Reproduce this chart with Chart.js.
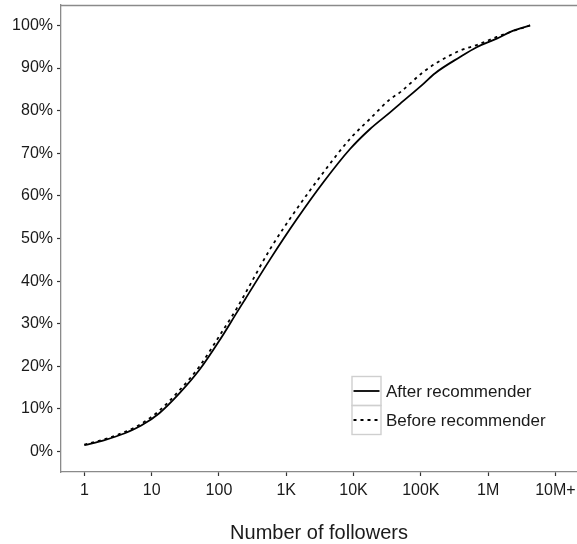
<!DOCTYPE html>
<html>
<head>
<meta charset="utf-8">
<script src="https://cdn.jsdelivr.net/npm/chart.js@4.4.1/dist/chart.umd.min.js"></script>
<style>
  html, body { margin: 0; padding: 0; background: #fff; }
  #wrap { width: 577px; height: 544px; position: relative; }
</style>
</head>
<body>
<div id="wrap"><canvas id="cdfChart"></canvas></div>
<script>
const followers = [1, 2, 4, 7, 13, 26, 52, 104, 184, 244, 575, 1430, 3560, 8870, 17600, 34900, 49000, 109000, 163000, 382000, 676000, 1340000, 2370000, 4200000];

// cumulative share of users (%)
const afterRecommender  = [1.5, 2.7, 4.3, 6.1, 9.0, 13.7, 19.3, 26.3, 32.6, 35.7, 45.1, 54.5, 63.2, 71.0, 75.7, 79.6, 81.6, 86.3, 88.8, 92.6, 94.9, 96.9, 98.8, 100];
const beforeRecommender = [1.6, 2.9, 4.6, 6.5, 9.6, 14.4, 20.1, 27.4, 33.6, 37.0, 47.5, 56.9, 65.5, 73.4, 78.1, 82.7, 84.3, 89.1, 91.0, 94.1, 95.4, 97.3, 98.7, 100];

const seriesLabels = ['After recommender', 'Before recommender'];

const xTickValues = [1, 10, 100, 1e3, 1e4, 1e5, 1e6, 1e7];
const xTickLabels = ['1', '10', '100', '1K', '10K', '100K', '1M', '10M+'];
const yTickValues = [0, 10, 20, 30, 40, 50, 60, 70, 80, 90, 100];

const FONT = "'Liberation Sans', Arial, Helvetica, sans-serif";
const axisGrey = '#8a8a8a';
const textColor = '#1a1a1a';

const toPoints = (xs, ys) => xs.map((x, i) => ({ x: x, y: ys[i] }));

// top edge of the panel + ggplot style legend with boxed keys
const frameAndKey = {
    id: 'frameAndKey',
    afterDraw(chart) {
        const { ctx, chartArea } = chart;
        ctx.save();
        ctx.strokeStyle = axisGrey;
        ctx.lineWidth = 1.3;
        ctx.beginPath();
        ctx.moveTo(chartArea.left, chartArea.top + 0.5);
        ctx.lineTo(chartArea.right, chartArea.top + 0.5);
        ctx.stroke();

        const keyLeft = chartArea.left + 291;
        const keyTop = chartArea.bottom - 95.5;
        const keySize = 29;
        chart.data.datasets.forEach((ds, i) => {
            const top = keyTop + i * keySize;
            ctx.setLineDash([]);
            ctx.strokeStyle = '#cfcfcf';
            ctx.lineWidth = 1.4;
            ctx.strokeRect(keyLeft, top, keySize, keySize);

            ctx.strokeStyle = ds.borderColor;
            ctx.lineWidth = ds.borderWidth;
            ctx.setLineDash(ds.borderDash || []);
            ctx.beginPath();
            ctx.moveTo(keyLeft + 1.5, top + keySize / 2);
            ctx.lineTo(keyLeft + keySize - 1.5, top + keySize / 2);
            ctx.stroke();

            ctx.setLineDash([]);
            ctx.fillStyle = textColor;
            ctx.font = '17px ' + FONT;
            ctx.textBaseline = 'middle';
            ctx.textAlign = 'left';
            ctx.fillText(ds.label, keyLeft + keySize + 5, top + keySize / 2 + 1);
        });
        ctx.restore();
    }
};

const ctx = document.getElementById('cdfChart').getContext('2d');
const chart = new Chart(ctx, {
    type: 'line',
    data: {
        datasets: [
            {
                label: seriesLabels[0],
                data: toPoints(followers, afterRecommender),
                borderColor: '#000',
                borderWidth: 1.8,
                pointRadius: 0,
                fill: false,
                cubicInterpolationMode: 'monotone'
            },
            {
                label: seriesLabels[1],
                data: toPoints(followers, beforeRecommender),
                borderColor: '#000',
                borderWidth: 1.8,
                borderDash: [3, 4],
                pointRadius: 0,
                fill: false,
                cubicInterpolationMode: 'monotone'
            }
        ]
    },
    options: {
        responsive: true,
        maintainAspectRatio: false,
        animation: false,
        layout: { padding: { top: 5, right: 0, left: 0, bottom: 0 } },
        scales: {
            x: {
                type: 'logarithmic',
                min: 0.45,
                max: 2.09e7,
                afterBuildTicks: (scale) => {
                    scale.ticks = xTickValues.map(v => ({ value: v }));
                },
                afterFit: (scale) => {
                    scale.height = 72;
                    scale.paddingLeft = 0;
                    scale.paddingRight = 0;
                },
                ticks: {
                    autoSkip: false,
                    maxRotation: 0,
                    padding: 5,
                    color: textColor,
                    font: { family: FONT, size: 16 },
                    callback: (value) => {
                        const i = xTickValues.indexOf(value);
                        return i >= 0 ? xTickLabels[i] : '';
                    }
                },
                grid: {
                    display: true,
                    drawOnChartArea: false,
                    drawTicks: true,
                    tickLength: 4,
                    tickWidth: 1.2,
                    tickColor: '#333'
                },
                border: { display: true, color: axisGrey, width: 1.3 },
                title: {
                    display: true,
                    text: 'Number of followers',
                    color: textColor,
                    font: { family: FONT, size: 20, lineHeight: 1.1 },
                    padding: { top: 0, bottom: 0 }
                }
            },
            y: {
                type: 'linear',
                min: -4.8,
                max: 104.8,
                afterBuildTicks: (scale) => {
                    scale.ticks = yTickValues.map(v => ({ value: v }));
                },
                afterFit: (scale) => {
                    scale.width = 61;
                    scale.paddingTop = 0;
                    scale.paddingBottom = 0;
                },
                ticks: {
                    padding: 4,
                    color: textColor,
                    font: { family: FONT, size: 16 },
                    callback: (value) => value + '%'
                },
                grid: {
                    display: true,
                    drawOnChartArea: false,
                    drawTicks: true,
                    tickLength: 4,
                    tickWidth: 1.2,
                    tickColor: '#333'
                },
                border: { display: true, color: axisGrey, width: 1.3 }
            }
        },
        plugins: {
            legend: { display: false },
            tooltip: { enabled: false }
        }
    },
    plugins: [frameAndKey]
});
</script>
</body>
</html>
